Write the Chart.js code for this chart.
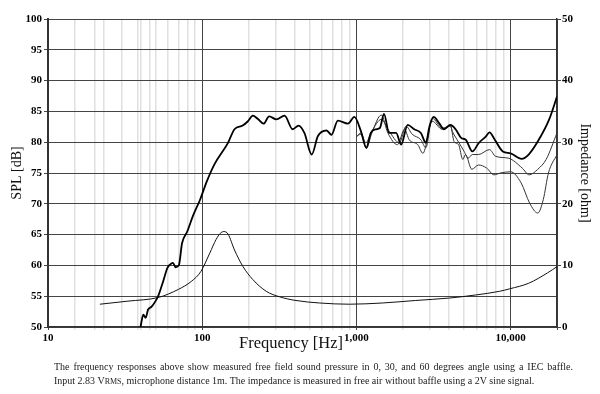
<!DOCTYPE html>
<html>
<head>
<meta charset="utf-8">
<script src="https://cdn.jsdelivr.net/npm/chart.js@4"></script>
<style>
  body { margin: 0; background: #fff; }
  #wrap { position: relative; width: 600px; height: 394px; }
  .cap { position: absolute; left: 54px; width: 519px; font: 10px "Liberation Serif", serif; color: #222; white-space: nowrap; }
  #cap1 { top: 361px; text-align: justify; text-align-last: justify; white-space: normal; }
  #cap2 { top: 375px; }
  .sc { font-size: 8px; }
</style>
</head>
<body>
<div id="wrap">
  <canvas id="spl" width="600" height="394"></canvas>
  <div class="cap" id="cap1">The frequency responses above show measured free field sound pressure in 0, 30, and 60 degrees angle using a IEC baffle.</div>
  <div class="cap" id="cap2">Input 2.83 V<span class="sc">RMS</span>, microphone distance 1m. The impedance is measured in free air without baffle using a 2V sine signal.</div>
</div>
<script>
// SPL at 0 degrees (thick line)
var f0 = [39.8, 41.5, 43, 44.5, 47, 49.8, 51.8, 55.8, 59.5, 61.6, 64.6, 67.3, 70.7, 74, 80, 87, 97, 107, 120, 147, 162, 183, 198, 213, 229, 250, 272, 303, 342, 386, 422, 460, 513, 563, 641, 689, 758, 882, 970, 1070, 1160, 1240, 1340, 1420, 1510, 1630, 1810, 1950, 2150, 2370, 2620, 2820, 2980, 3170, 3440, 3700, 4070, 4400, 4780, 5120, 5650, 6230, 6900, 7300, 7900, 8900, 10000, 11800, 13100, 15000, 17800, 20000];
var spl0 = [50, 52.0, 51.5, 52.8, 53.3, 54.2, 55.0, 57.4, 59.6, 60.1, 60.4, 59.7, 60.1, 63.6, 65.5, 68.0, 70.7, 73.6, 76.4, 79.9, 82.1, 82.7, 83.4, 84.3, 83.8, 83.0, 84.2, 83.7, 84.3, 82.1, 82.7, 81.5, 78.0, 81.0, 81.9, 81.2, 83.5, 83.0, 84.1, 81.8, 79.1, 81.5, 82.1, 82.3, 84.6, 81.5, 81.5, 79.6, 82.8, 82.1, 81.5, 79.9, 82.6, 84.1, 83.1, 82.1, 82.8, 82.1, 80.7, 80.4, 78.5, 79.9, 80.9, 81.6, 80.4, 78.5, 78.2, 77.3, 78.0, 80.1, 83.7, 87.4];

// SPL at 30 degrees
var f30 = [1000, 1070, 1150, 1260, 1450, 1630, 1900, 2100, 2300, 2620, 2820, 3100, 3600, 4070, 4200, 4500, 5000, 5300, 5650, 6200, 7300, 8000, 9700, 11900, 13200, 15000, 17000, 20000];
var spl30 = [80.9, 81.5, 79.9, 81.8, 83.7, 81.8, 79.9, 82.6, 81.3, 80.4, 79.1, 83.9, 82.3, 82.6, 81.7, 80.4, 78.5, 77.4, 78.0, 78.0, 78.8, 77.7, 77.4, 75.8, 74.7, 75.6, 77.2, 81.5];

// SPL at 60 degrees
var f60 = [1000, 1070, 1160, 1260, 1450, 1600, 1850, 2050, 2200, 2500, 2700, 3100, 3600, 4070, 4300, 4600, 4900, 5100, 5600, 6200, 7000, 7800, 8600, 10000, 11700, 13300, 15000, 16300, 17600, 20000];
var spl60 = [80.9, 81.3, 79.0, 81.5, 84.4, 81.5, 79.6, 82.1, 80.4, 79.6, 78.2, 83.4, 82.1, 82.8, 80.1, 79.6, 77.2, 78.0, 75.6, 76.3, 75.8, 74.7, 75.0, 75.2, 73.4, 70.1, 68.5, 70.7, 75.0, 78.0];

// impedance (right axis)
var fImp = [21.7, 33, 52, 70, 85, 98, 112, 123, 131, 138, 147, 162, 184, 213, 260, 318, 406, 575, 900, 1480, 2410, 4000, 5950, 8500, 9870, 13100, 17400, 20000];
var imp = [3.7, 4.2, 4.8, 6.1, 7.4, 9.0, 12.0, 14.2, 15.2, 15.5, 15.1, 12.5, 9.8, 7.7, 5.8, 4.9, 4.3, 3.9, 3.7, 3.9, 4.3, 4.7, 5.2, 5.8, 6.2, 7.1, 8.8, 9.8];

var xGrid = [10, 15, 20, 23, 30, 38, 40, 46, 50, 60, 70, 80, 90, 100, 200, 300, 400, 500, 600, 700, 800, 900, 1000, 2000, 3000, 4000, 5000, 6000, 7000, 8000, 9000, 10000, 20000];
var xLabels = {10: "10", 100: "100", 1000: "1,000", 10000: "10,000"};
var decades = [10, 100, 1000, 10000, 20000];

function pts(fs, vs) {
  return fs.map(function (f, i) { return {x: f, y: vs[i]}; });
}

var tickFont = {family: "Liberation Serif", size: 11, weight: "bold"};

var xTitle = {
  id: "xTitle",
  afterDraw: function (chart) {
    var ctx = chart.ctx;
    ctx.save();
    ctx.font = '16.5px "Liberation Serif"';
    ctx.fillStyle = "#111";
    ctx.textAlign = "left";
    ctx.textBaseline = "alphabetic";
    ctx.fillText("Frequency [Hz]", 239, 348);
    ctx.restore();
  }
};

new Chart("spl", {
  type: "line",
  data: {
    datasets: [
      {data: pts(f0, spl0), borderColor: "#000", borderWidth: 1.8, yAxisID: "y"},
      {data: pts(f30, spl30), borderColor: "#333", borderWidth: 1, yAxisID: "y"},
      {data: pts(f60, spl60), borderColor: "#333", borderWidth: 1, yAxisID: "y"},
      {data: pts(fImp, imp), borderColor: "#111", borderWidth: 1, yAxisID: "z"}
    ]
  },
  options: {
    responsive: false,
    animation: false,
    events: [],
    elements: {point: {radius: 0}, line: {cubicInterpolationMode: "monotone", fill: false}},
    layout: {padding: {top: 19, left: 0, right: 0, bottom: 0}},
    plugins: {legend: {display: false}, tooltip: {enabled: false}},
    scales: {
      x: {
        type: "logarithmic",
        min: 10,
        max: 20000,
        afterBuildTicks: function (s) {
          s.ticks = xGrid.map(function (v) { return {value: v}; });
        },
        afterFit: function (s) { s.height = 67; },
        ticks: {
          autoSkip: false,
          maxRotation: 0,
          padding: 2,
          color: "#000",
          font: tickFont,
          callback: function (v) { return xLabels[v] || ""; }
        },
        grid: {
          color: function (c) { return decades.indexOf(c.tick.value) >= 0 ? "#444" : "#e0e0e0"; },
          lineWidth: function (c) { return decades.indexOf(c.tick.value) >= 0 ? 1 : 1.5; },
          tickLength: 3
        },
        border: {color: "#333", width: 1.5}
      },
      y: {
        position: "left",
        min: 50,
        max: 100,
        afterFit: function (s) { s.width = 48; },
        ticks: {stepSize: 5, padding: 2, color: "#000", font: tickFont},
        grid: {color: "#444", lineWidth: 1, tickLength: 4},
        border: {color: "#333", width: 2},
        title: {display: true, text: "SPL [dB]", color: "#111", font: {family: "Liberation Serif", size: 14}, padding: {top: 9, bottom: 0}}
      },
      z: {
        position: "right",
        min: 0,
        max: 50,
        afterFit: function (s) { s.width = 43; },
        ticks: {stepSize: 10, padding: 1, color: "#000", font: tickFont},
        grid: {drawOnChartArea: false, color: "#444", tickLength: 4},
        border: {color: "#333", width: 1.5},
        title: {display: true, text: "Impedance [ohm]", color: "#111", font: {family: "Liberation Serif", size: 14}, padding: {top: 7, bottom: 0}}
      }
    }
  },
  plugins: [xTitle]
});
</script>
</body>
</html>
